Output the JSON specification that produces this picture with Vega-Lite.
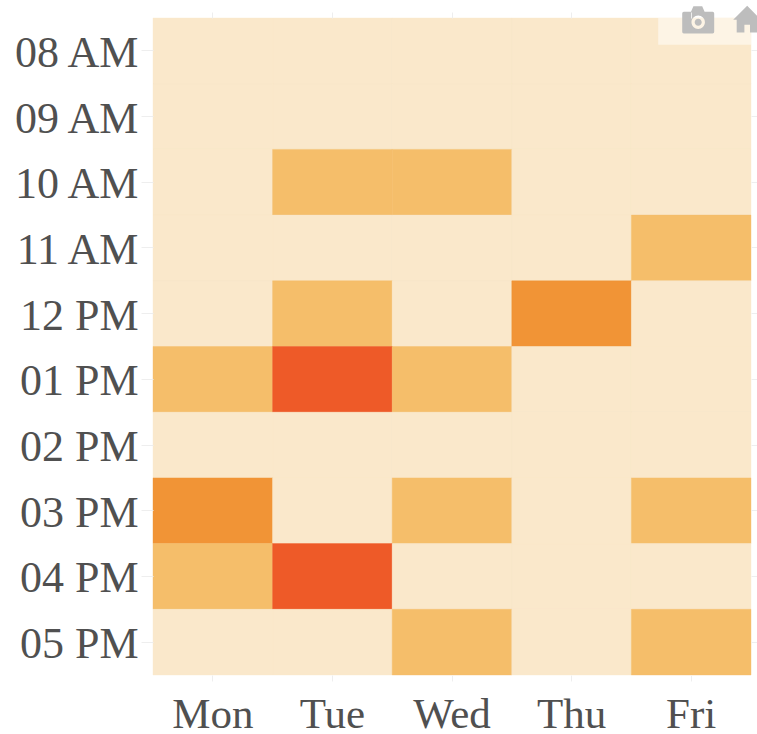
{
"$schema":"https://vega.github.io/schema/vega-lite/v6.json",
"width":598,"height":657,
"autosize":{"type":"none"},
"padding":{"left":153,"top":18,"right":6,"bottom":59},
"background":"white",
"config":{"view":{"stroke":null,"fill":"#FAE8CB"}},
"datasets":{"cells":[
{"h":"08 AM","d":"Mon","v":0},{"h":"08 AM","d":"Tue","v":0},{"h":"08 AM","d":"Wed","v":0},{"h":"08 AM","d":"Thu","v":0},{"h":"08 AM","d":"Fri","v":0},
{"h":"09 AM","d":"Mon","v":0},{"h":"09 AM","d":"Tue","v":0},{"h":"09 AM","d":"Wed","v":0},{"h":"09 AM","d":"Thu","v":0},{"h":"09 AM","d":"Fri","v":0},
{"h":"10 AM","d":"Mon","v":0},{"h":"10 AM","d":"Tue","v":1},{"h":"10 AM","d":"Wed","v":1},{"h":"10 AM","d":"Thu","v":0},{"h":"10 AM","d":"Fri","v":0},
{"h":"11 AM","d":"Mon","v":0},{"h":"11 AM","d":"Tue","v":0},{"h":"11 AM","d":"Wed","v":0},{"h":"11 AM","d":"Thu","v":0},{"h":"11 AM","d":"Fri","v":1},
{"h":"12 PM","d":"Mon","v":0},{"h":"12 PM","d":"Tue","v":1},{"h":"12 PM","d":"Wed","v":0},{"h":"12 PM","d":"Thu","v":2},{"h":"12 PM","d":"Fri","v":0},
{"h":"01 PM","d":"Mon","v":1},{"h":"01 PM","d":"Tue","v":3},{"h":"01 PM","d":"Wed","v":1},{"h":"01 PM","d":"Thu","v":0},{"h":"01 PM","d":"Fri","v":0},
{"h":"02 PM","d":"Mon","v":0},{"h":"02 PM","d":"Tue","v":0},{"h":"02 PM","d":"Wed","v":0},{"h":"02 PM","d":"Thu","v":0},{"h":"02 PM","d":"Fri","v":0},
{"h":"03 PM","d":"Mon","v":2},{"h":"03 PM","d":"Tue","v":0},{"h":"03 PM","d":"Wed","v":1},{"h":"03 PM","d":"Thu","v":0},{"h":"03 PM","d":"Fri","v":1},
{"h":"04 PM","d":"Mon","v":1},{"h":"04 PM","d":"Tue","v":3},{"h":"04 PM","d":"Wed","v":0},{"h":"04 PM","d":"Thu","v":0},{"h":"04 PM","d":"Fri","v":0},
{"h":"05 PM","d":"Mon","v":0},{"h":"05 PM","d":"Tue","v":0},{"h":"05 PM","d":"Wed","v":1},{"h":"05 PM","d":"Thu","v":0},{"h":"05 PM","d":"Fri","v":1}
],"modebar":[{"h":"08 AM","d":"Fri"}]},
"resolve":{"axis":{"x":"independent","y":"independent"}},
"layer":[
{"data":{"name":"cells"},
"mark":{"type":"rect","strokeWidth":0.4},
"encoding":{
"x":{"field":"d","type":"nominal","sort":["Mon","Tue","Wed","Thu","Fri"],"scale":{"paddingInner":0,"paddingOuter":0},
"axis":{"title":null,"labelAngle":0,"labelFont":"Liberation Serif","labelFontSize":43,"labelColor":"#505050","domain":false,"tickColor":"#eeeeee","tickSize":6,"labelPadding":12,"grid":false}},
"y":{"field":"h","type":"nominal","sort":["08 AM","09 AM","10 AM","11 AM","12 PM","01 PM","02 PM","03 PM","04 PM","05 PM"],"scale":{"paddingInner":0,"paddingOuter":0},
"axis":{"title":null,"labelFont":"Liberation Serif","labelFontSize":44,"labelColor":"#505050","labelOffset":3,"domain":false,"tickColor":"#eeeeee","tickSize":12,"labelPadding":3,"grid":false}},
"color":{"field":"v","type":"ordinal","legend":null,"scale":{"domain":[0,1,2,3],"range":["#FAE8CB","#F5BE6A","#F19436","#EE5A28"]}},
"stroke":{"field":"v","type":"ordinal","legend":null,"scale":{"domain":[0,1,2,3],"range":["#FAE8CB","#F5BE6A","#F19436","#EE5A28"]}}
}},
{"data":{"name":"cells"},
"mark":{"type":"rect","fillOpacity":0,"strokeOpacity":0},
"encoding":{
"x":{"field":"d","type":"nominal","sort":["Mon","Tue","Wed","Thu","Fri"],
"axis":{"orient":"top","title":null,"labels":false,"domain":false,"tickColor":"#eeeeee","tickSize":6,"grid":false}},
"y":{"field":"h","type":"nominal","sort":["08 AM","09 AM","10 AM","11 AM","12 PM","01 PM","02 PM","03 PM","04 PM","05 PM"],
"axis":{"orient":"right","title":null,"labels":false,"domain":false,"tickColor":"#eeeeee","tickSize":6,"grid":false}}
}},
{"data":{"name":"modebar"},
"mark":{"type":"rect","width":93,"height":27,"xOffset":13.5,"yOffset":-19.5,"fill":"#ffffff","fillOpacity":0.5},
"encoding":{
"x":{"field":"d","type":"nominal","sort":["Mon","Tue","Wed","Thu","Fri"],"axis":null},
"y":{"field":"h","type":"nominal","sort":["08 AM","09 AM","10 AM","11 AM","12 PM","01 PM","02 PM","03 PM","04 PM","05 PM"],"axis":null}
}},
{"data":{"name":"modebar"},
"mark":{"type":"point","filled":true,"fill":"#BDBDBD","opacity":1,"size":1024,"xOffset":7,"yOffset":-31,
"shape":"M-0.9,-0.5 L-0.45,-0.5 L-0.3,-0.85 L0.25,-0.85 L0.4,-0.5 L0.9,-0.5 Q1,-0.5 1,-0.4 L1,0.75 Q1,0.85 0.9,0.85 L-0.9,0.85 Q-1,0.85 -1,0.75 L-1,-0.4 Q-1,-0.5 -0.9,-0.5 Z M0.42,0.15 A0.42,0.42 0 0 0 -0.42,0.15 A0.42,0.42 0 0 0 0.42,0.15 Z M-0.22,0.15 A0.22,0.22 0 0 1 0.22,0.15 A0.22,0.22 0 0 1 -0.22,0.15 Z"},
"encoding":{
"x":{"field":"d","type":"nominal","sort":["Mon","Tue","Wed","Thu","Fri"],"axis":null},
"y":{"field":"h","type":"nominal","sort":["08 AM","09 AM","10 AM","11 AM","12 PM","01 PM","02 PM","03 PM","04 PM","05 PM"],"axis":null}
}},
{"data":{"name":"modebar"},
"mark":{"type":"point","filled":true,"fill":"#BDBDBD","opacity":1,"size":784,"xOffset":56,"yOffset":-31,
"shape":"M0,-1 L1,0 L0.75,0 L0.75,0.9 L0.2,0.9 L0.2,0.35 L-0.2,0.35 L-0.2,0.9 L-0.75,0.9 L-0.75,0 L-1,0 Z"},
"encoding":{
"x":{"field":"d","type":"nominal","sort":["Mon","Tue","Wed","Thu","Fri"],"axis":null},
"y":{"field":"h","type":"nominal","sort":["08 AM","09 AM","10 AM","11 AM","12 PM","01 PM","02 PM","03 PM","04 PM","05 PM"],"axis":null}
}}
]
}
